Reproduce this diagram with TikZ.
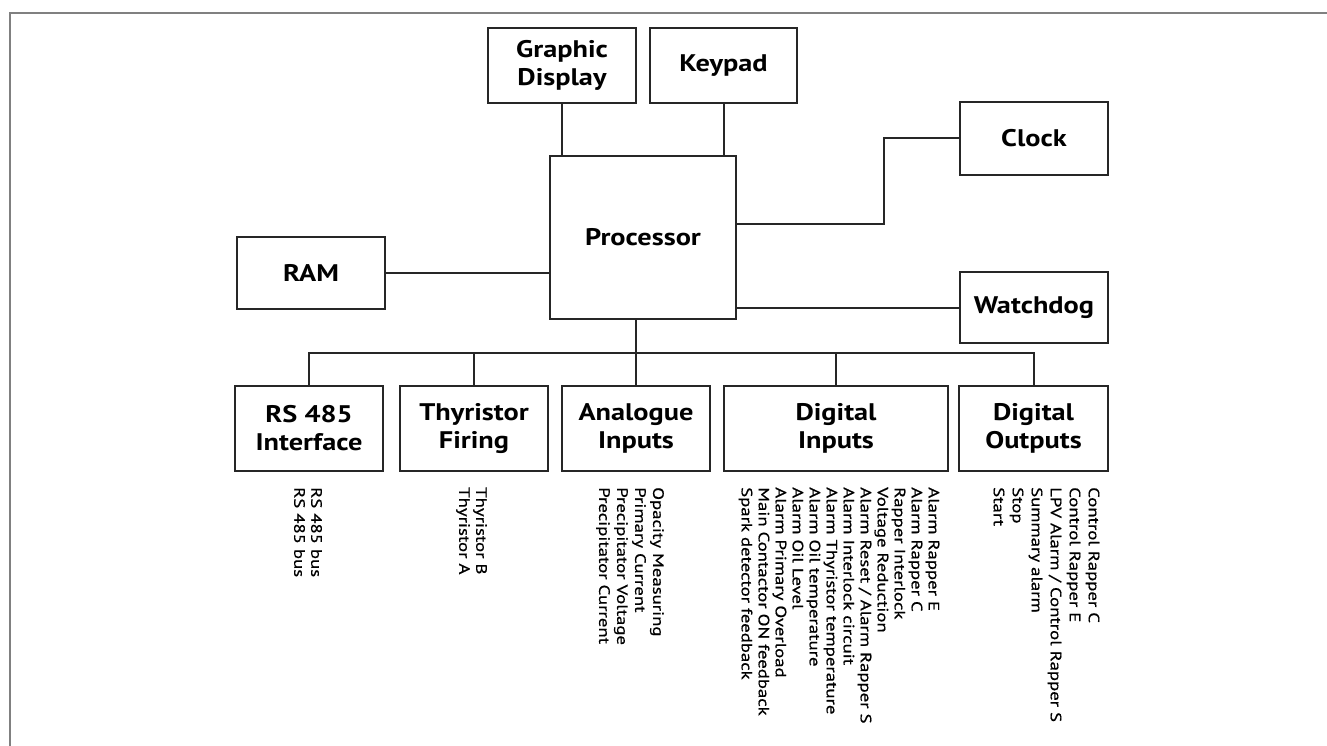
\documentclass[tikz,border=0pt]{standalone}
\usepackage{fontspec}
\setmainfont{PT Sans}
\newfontfamily\boxfont[FakeStretch=1.18]{PT Sans}
\newfontfamily\lstfont[FakeStretch=1.25, FakeBold=0.6]{PT Sans}
\begin{document}
\begin{tikzpicture}[x=1pt,y=-1pt,
  blk/.style={draw=black!85, line width=2pt, inner sep=0pt, align=center,
    font=\boxfont\fontsize{24}{28}\selectfont\bfseries},
  conn/.style={draw=black!85, line width=2pt},
  lst/.style={rotate=-90, anchor=west, inner sep=0pt, align=left},
  frame/.style={draw=black!50, line width=2pt}]
\useasboundingbox (0,0) rectangle (1327,746);
\draw[frame] (1327,13) -- (10,13) -- (10,746);
% top boxes
\node[blk, minimum width=148pt, minimum height=75pt] (gd) at (562,65.5) {Graphic\\Display};
\node[blk, minimum width=147pt, minimum height=75pt] (kp) at (723.5,65.5) {Keypad};
\node[blk, minimum width=186pt, minimum height=163pt] (proc) at (643,237.5) {Processor};
\node[blk, minimum width=148pt, minimum height=72pt] (ram) at (311,273) {RAM};
\node[blk, minimum width=148pt, minimum height=73pt] (clk) at (1034,138.5) {Clock};
\node[blk, minimum width=148pt, minimum height=71pt] (wd) at (1034,307.5) {Watchdog};
% bottom boxes
\node[blk, minimum width=148pt, minimum height=85pt] (rs) at (309,428.5) {RS 485\\Interface};
\node[blk, minimum width=148pt, minimum height=85pt] (thy) at (474,428.5) {Thyristor\\Firing};
\node[blk, minimum width=148pt, minimum height=85pt] (ana) at (636,428.5) {Analogue\\Inputs};
\node[blk, minimum width=224pt, minimum height=85pt] (di) at (836,428.5) {Digital\\Inputs};
\node[blk, minimum width=149pt, minimum height=85pt] (do) at (1033.5,428.5) {Digital\\Outputs};
% connectors
\draw[conn] (gd.south) -- (gd.south |- proc.north);
\draw[conn] (kp.south) -- (kp.south |- proc.north);
\draw[conn] (ram.east) -- (ram.east -| proc.west);
\coordinate (cbend) at (884,224);
\draw[conn] (cbend -| proc.east) -- (cbend) |- (clk.west);
\draw[conn] (wd.west) -- (wd.west -| proc.east);
\coordinate (bus) at (0,353);
\draw[conn] (proc.south -| ana.north) -- (ana.north);
\draw[conn] (rs.north) -- (rs.north |- bus) -- (do.north |- bus) -- (do.north);
\draw[conn] (thy.north) -- (thy.north |- bus);
\draw[conn] (di.north) -- (di.north |- bus);
% signal lists
\node[lst, font=\lstfont\fontsize{15}{17}\selectfont] (lrs) at (308,487) {RS 485 bus\\RS 485 bus};
\node[lst, font=\lstfont\fontsize{15}{17}\selectfont] (lthy) at (471.5,487) {Thyristor B\\Thyristor A};
\node[lst, font=\lstfont\fontsize{15}{18}\selectfont] (lana) at (630,487) {Opacity Measuring\\Primary Current\\Precipitator Voltage\\Precipitator Current};
\node[lst, font=\lstfont\fontsize{15}{17}\selectfont] (ldi) at (839,487) {Alarm Rapper E\\Alarm Rapper C\\Rapper Interlock\\Voltage Reduction\\Alarm Reset / Alarm Rapper S\\Alarm Interlock circuit\\Alarm Thyristor temperature\\Alarm Oil temperature\\Alarm Oil Level\\Alarm Primary Overload\\Main Contactor ON feedback\\Spark detector feedback};
\node[lst, font=\lstfont\fontsize{15}{19}\selectfont] (ldo) at (1046.5,487) {Control Rapper C\\Control Rapper E\\LPV Alarm / Control Rapper S\\Summary alarm\\Stop\\Start};
\end{tikzpicture}
\end{document}
